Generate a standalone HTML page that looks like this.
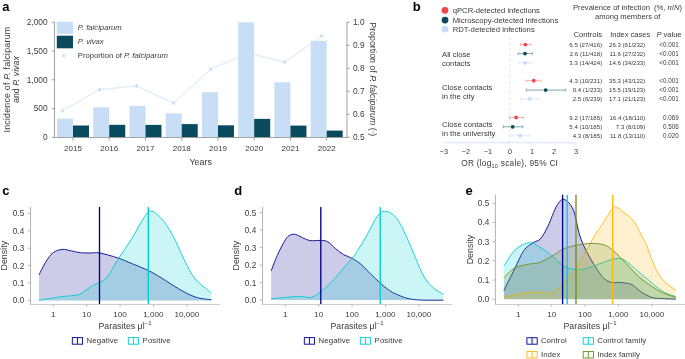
<!DOCTYPE html>
<html><head><meta charset="utf-8"><style>
html,body{margin:0;padding:0;background:#fff;width:685px;height:359px;overflow:hidden}
svg{display:block;will-change:transform;font-family:"Liberation Sans", sans-serif}
</style></head><body>
<svg width="685" height="359" viewBox="0 0 685 359">
<text x="2.20" y="10.60" font-size="13" text-anchor="start" fill="#000" font-weight="bold" font-style="normal" >a</text>
<polyline points="62.50,110.70 99.53,89.60 136.56,86.00 173.59,103.10 210.62,69.40 247.65,53.00 284.68,62.10 321.71,36.20" fill="none" stroke="#d3e3f8" stroke-width="0.9"/>
<line x1="62.50" y1="108.70" x2="62.50" y2="112.70" stroke="#c5daf5" stroke-width="0.9"/><line x1="64.23" y1="109.70" x2="60.77" y2="111.70" stroke="#c5daf5" stroke-width="0.9"/><line x1="64.23" y1="111.70" x2="60.77" y2="109.70" stroke="#c5daf5" stroke-width="0.9"/>
<line x1="99.53" y1="87.60" x2="99.53" y2="91.60" stroke="#c5daf5" stroke-width="0.9"/><line x1="101.26" y1="88.60" x2="97.80" y2="90.60" stroke="#c5daf5" stroke-width="0.9"/><line x1="101.26" y1="90.60" x2="97.80" y2="88.60" stroke="#c5daf5" stroke-width="0.9"/>
<line x1="136.56" y1="84.00" x2="136.56" y2="88.00" stroke="#c5daf5" stroke-width="0.9"/><line x1="138.29" y1="85.00" x2="134.83" y2="87.00" stroke="#c5daf5" stroke-width="0.9"/><line x1="138.29" y1="87.00" x2="134.83" y2="85.00" stroke="#c5daf5" stroke-width="0.9"/>
<line x1="173.59" y1="101.10" x2="173.59" y2="105.10" stroke="#c5daf5" stroke-width="0.9"/><line x1="175.32" y1="102.10" x2="171.86" y2="104.10" stroke="#c5daf5" stroke-width="0.9"/><line x1="175.32" y1="104.10" x2="171.86" y2="102.10" stroke="#c5daf5" stroke-width="0.9"/>
<line x1="210.62" y1="67.40" x2="210.62" y2="71.40" stroke="#c5daf5" stroke-width="0.9"/><line x1="212.35" y1="68.40" x2="208.89" y2="70.40" stroke="#c5daf5" stroke-width="0.9"/><line x1="212.35" y1="70.40" x2="208.89" y2="68.40" stroke="#c5daf5" stroke-width="0.9"/>
<line x1="247.65" y1="51.00" x2="247.65" y2="55.00" stroke="#c5daf5" stroke-width="0.9"/><line x1="249.38" y1="52.00" x2="245.92" y2="54.00" stroke="#c5daf5" stroke-width="0.9"/><line x1="249.38" y1="54.00" x2="245.92" y2="52.00" stroke="#c5daf5" stroke-width="0.9"/>
<line x1="284.68" y1="60.10" x2="284.68" y2="64.10" stroke="#c5daf5" stroke-width="0.9"/><line x1="286.41" y1="61.10" x2="282.95" y2="63.10" stroke="#c5daf5" stroke-width="0.9"/><line x1="286.41" y1="63.10" x2="282.95" y2="61.10" stroke="#c5daf5" stroke-width="0.9"/>
<line x1="321.71" y1="34.20" x2="321.71" y2="38.20" stroke="#c5daf5" stroke-width="0.9"/><line x1="323.44" y1="35.20" x2="319.98" y2="37.20" stroke="#c5daf5" stroke-width="0.9"/><line x1="323.44" y1="37.20" x2="319.98" y2="35.20" stroke="#c5daf5" stroke-width="0.9"/>
<rect x="57.00" y="118.70" width="16.00" height="18.60" fill="#c8def7" />
<rect x="73.00" y="125.50" width="16.00" height="11.80" fill="#0a4a5e" />
<rect x="93.24" y="107.30" width="16.00" height="30.00" fill="#c8def7" />
<rect x="109.24" y="124.80" width="16.00" height="12.50" fill="#0a4a5e" />
<rect x="129.48" y="105.90" width="16.00" height="31.40" fill="#c8def7" />
<rect x="145.48" y="124.90" width="16.00" height="12.40" fill="#0a4a5e" />
<rect x="165.72" y="113.30" width="16.00" height="24.00" fill="#c8def7" />
<rect x="181.72" y="124.10" width="16.00" height="13.20" fill="#0a4a5e" />
<rect x="201.96" y="92.20" width="16.00" height="45.10" fill="#c8def7" />
<rect x="217.96" y="125.30" width="16.00" height="12.00" fill="#0a4a5e" />
<rect x="238.20" y="22.20" width="16.00" height="115.10" fill="#c8def7" />
<rect x="254.20" y="118.90" width="16.00" height="18.40" fill="#0a4a5e" />
<rect x="274.44" y="82.30" width="16.00" height="55.00" fill="#c8def7" />
<rect x="290.44" y="125.60" width="16.00" height="11.70" fill="#0a4a5e" />
<rect x="310.68" y="40.80" width="16.00" height="96.50" fill="#c8def7" />
<rect x="326.68" y="130.60" width="16.00" height="6.70" fill="#0a4a5e" />
<line x1="54.50" y1="22.00" x2="54.50" y2="137.80" stroke="#999" stroke-width="0.9" />
<line x1="54.50" y1="137.50" x2="347.00" y2="137.50" stroke="#999" stroke-width="0.9" />
<line x1="347.00" y1="22.00" x2="347.00" y2="137.80" stroke="#999" stroke-width="0.9" />
<line x1="51.80" y1="137.30" x2="54.50" y2="137.30" stroke="#999" stroke-width="0.9" />
<text x="47.60" y="140.20" font-size="8.3" text-anchor="end" fill="#3a3a3a" font-weight="normal" font-style="normal" >0</text>
<line x1="51.80" y1="108.55" x2="54.50" y2="108.55" stroke="#999" stroke-width="0.9" />
<text x="47.60" y="111.45" font-size="8.3" text-anchor="end" fill="#3a3a3a" font-weight="normal" font-style="normal" >500</text>
<line x1="51.80" y1="79.80" x2="54.50" y2="79.80" stroke="#999" stroke-width="0.9" />
<text x="47.60" y="82.70" font-size="8.3" text-anchor="end" fill="#3a3a3a" font-weight="normal" font-style="normal" >1,000</text>
<line x1="51.80" y1="51.05" x2="54.50" y2="51.05" stroke="#999" stroke-width="0.9" />
<text x="47.60" y="53.95" font-size="8.3" text-anchor="end" fill="#3a3a3a" font-weight="normal" font-style="normal" >1,500</text>
<line x1="51.80" y1="22.30" x2="54.50" y2="22.30" stroke="#999" stroke-width="0.9" />
<text x="47.60" y="25.20" font-size="8.3" text-anchor="end" fill="#3a3a3a" font-weight="normal" font-style="normal" >2,000</text>
<line x1="347.00" y1="137.30" x2="349.70" y2="137.30" stroke="#999" stroke-width="0.9" />
<text x="353.00" y="140.20" font-size="8.3" text-anchor="start" fill="#3a3a3a" font-weight="normal" font-style="normal" >0.5</text>
<line x1="347.00" y1="114.30" x2="349.70" y2="114.30" stroke="#999" stroke-width="0.9" />
<text x="353.00" y="117.20" font-size="8.3" text-anchor="start" fill="#3a3a3a" font-weight="normal" font-style="normal" >0.6</text>
<line x1="347.00" y1="91.30" x2="349.70" y2="91.30" stroke="#999" stroke-width="0.9" />
<text x="353.00" y="94.20" font-size="8.3" text-anchor="start" fill="#3a3a3a" font-weight="normal" font-style="normal" >0.7</text>
<line x1="347.00" y1="68.30" x2="349.70" y2="68.30" stroke="#999" stroke-width="0.9" />
<text x="353.00" y="71.20" font-size="8.3" text-anchor="start" fill="#3a3a3a" font-weight="normal" font-style="normal" >0.8</text>
<line x1="347.00" y1="45.30" x2="349.70" y2="45.30" stroke="#999" stroke-width="0.9" />
<text x="353.00" y="48.20" font-size="8.3" text-anchor="start" fill="#3a3a3a" font-weight="normal" font-style="normal" >0.9</text>
<line x1="347.00" y1="22.30" x2="349.70" y2="22.30" stroke="#999" stroke-width="0.9" />
<text x="353.00" y="25.20" font-size="8.3" text-anchor="start" fill="#3a3a3a" font-weight="normal" font-style="normal" >1.0</text>
<line x1="73.00" y1="137.50" x2="73.00" y2="140.70" stroke="#999" stroke-width="0.9" />
<text x="73.00" y="150.70" font-size="8.0" text-anchor="middle" fill="#3a3a3a" font-weight="normal" font-style="normal" >2015</text>
<line x1="109.24" y1="137.50" x2="109.24" y2="140.70" stroke="#999" stroke-width="0.9" />
<text x="109.24" y="150.70" font-size="8.0" text-anchor="middle" fill="#3a3a3a" font-weight="normal" font-style="normal" >2016</text>
<line x1="145.48" y1="137.50" x2="145.48" y2="140.70" stroke="#999" stroke-width="0.9" />
<text x="145.48" y="150.70" font-size="8.0" text-anchor="middle" fill="#3a3a3a" font-weight="normal" font-style="normal" >2017</text>
<line x1="181.72" y1="137.50" x2="181.72" y2="140.70" stroke="#999" stroke-width="0.9" />
<text x="181.72" y="150.70" font-size="8.0" text-anchor="middle" fill="#3a3a3a" font-weight="normal" font-style="normal" >2018</text>
<line x1="217.96" y1="137.50" x2="217.96" y2="140.70" stroke="#999" stroke-width="0.9" />
<text x="217.96" y="150.70" font-size="8.0" text-anchor="middle" fill="#3a3a3a" font-weight="normal" font-style="normal" >2019</text>
<line x1="254.20" y1="137.50" x2="254.20" y2="140.70" stroke="#999" stroke-width="0.9" />
<text x="254.20" y="150.70" font-size="8.0" text-anchor="middle" fill="#3a3a3a" font-weight="normal" font-style="normal" >2020</text>
<line x1="290.44" y1="137.50" x2="290.44" y2="140.70" stroke="#999" stroke-width="0.9" />
<text x="290.44" y="150.70" font-size="8.0" text-anchor="middle" fill="#3a3a3a" font-weight="normal" font-style="normal" >2021</text>
<line x1="326.68" y1="137.50" x2="326.68" y2="140.70" stroke="#999" stroke-width="0.9" />
<text x="326.68" y="150.70" font-size="8.0" text-anchor="middle" fill="#3a3a3a" font-weight="normal" font-style="normal" >2022</text>
<text x="200.70" y="164.80" font-size="8.9" text-anchor="middle" fill="#3a3a3a" font-weight="normal" font-style="normal" >Years</text>
<rect x="56.80" y="21.70" width="16.20" height="12.20" fill="#c8def7" />
<rect x="56.80" y="35.70" width="16.20" height="12.60" fill="#0a4a5e" />
<line x1="63.80" y1="53.60" x2="63.80" y2="57.60" stroke="#c5daf5" stroke-width="0.9"/><line x1="65.53" y1="54.60" x2="62.07" y2="56.60" stroke="#c5daf5" stroke-width="0.9"/><line x1="65.53" y1="56.60" x2="62.07" y2="54.60" stroke="#c5daf5" stroke-width="0.9"/>
<text x="77.80" y="30.40" font-size="7.7" text-anchor="start" fill="#3a3a3a" font-weight="normal" font-style="italic" >P. falciparum</text>
<text x="77.80" y="43.90" font-size="7.7" text-anchor="start" fill="#3a3a3a" font-weight="normal" font-style="italic" >P. vivax</text>
<text x="77.80" y="57.90" font-size="7.7" text-anchor="start" fill="#3a3a3a" font-weight="normal" font-style="normal" >Proportion of <tspan font-style="italic">P. falciparum</tspan></text>
<text transform="translate(10,79.6) rotate(-90)" font-size="8.8" letter-spacing="0.22" text-anchor="middle" fill="#3a3a3a">Incidence of <tspan font-style="italic">P.</tspan> falciparum</text>
<text transform="translate(19.4,79.6) rotate(-90)" font-size="8.8" text-anchor="middle" fill="#3a3a3a">and <tspan font-style="italic">P. vivax</tspan></text>
<text transform="translate(369.6,79.2) rotate(90)" font-size="8.8" text-anchor="middle" fill="#3a3a3a">Proportion of <tspan font-style="italic">P. falciparum</tspan> (   )</text>
<line x1="373.00" y1="130.70" x2="373.00" y2="134.30" stroke="#c5daf5" stroke-width="0.9"/><line x1="374.56" y1="131.60" x2="371.44" y2="133.40" stroke="#c5daf5" stroke-width="0.9"/><line x1="374.56" y1="133.40" x2="371.44" y2="131.60" stroke="#c5daf5" stroke-width="0.9"/>
<text x="412.80" y="10.60" font-size="13" text-anchor="start" fill="#000" font-weight="bold" font-style="normal" >b</text>
<circle cx="445" cy="10.3" r="3.4" fill="#f0454a"/>
<text x="452.70" y="13.00" font-size="7.7" text-anchor="start" fill="#3a3a3a" font-weight="normal" font-style="normal" >qPCR-detected infections</text>
<circle cx="445" cy="20.1" r="3.4" fill="#0c4a5a"/>
<text x="452.70" y="22.80" font-size="7.7" text-anchor="start" fill="#3a3a3a" font-weight="normal" font-style="normal" >Microscopy-detected infections</text>
<circle cx="445" cy="29.1" r="3.4" fill="#c8dcf5"/>
<text x="452.70" y="31.80" font-size="7.7" text-anchor="start" fill="#3a3a3a" font-weight="normal" font-style="normal" >RDT-detected infections</text>
<text x="627.50" y="10.40" font-size="7.6" text-anchor="middle" fill="#3a3a3a" font-weight="normal" font-style="normal" >Prevalence of infection&#160; (%, <tspan font-style="italic">n</tspan>/<tspan font-style="italic">N</tspan>)</text>
<text x="627.70" y="19.20" font-size="7.6" text-anchor="middle" fill="#3a3a3a" font-weight="normal" font-style="normal" >among members of</text>
<text x="587.70" y="36.50" font-size="7.7" text-anchor="middle" fill="#3a3a3a" font-weight="normal" font-style="normal" >Controls</text>
<text x="630.20" y="36.50" font-size="7.5" text-anchor="middle" fill="#3a3a3a" font-weight="normal" font-style="normal" >Index cases</text>
<text x="669.00" y="36.50" font-size="7.5" text-anchor="middle" fill="#3a3a3a" font-weight="normal" font-style="normal" ><tspan font-style="italic">P</tspan> value</text>
<line x1="509.80" y1="37.30" x2="509.80" y2="142.40" stroke="#d3e2f7" stroke-width="0.9" stroke-dasharray="2.8,2.6"/>
<line x1="443.50" y1="142.40" x2="576.50" y2="142.40" stroke="#d8e5f7" stroke-width="0.9" />
<line x1="444.00" y1="142.40" x2="444.00" y2="144.80" stroke="#dfe9f8" stroke-width="0.7" />
<line x1="450.62" y1="142.40" x2="450.62" y2="144.20" stroke="#dfe9f8" stroke-width="0.7" />
<line x1="454.50" y1="142.40" x2="454.50" y2="144.20" stroke="#dfe9f8" stroke-width="0.7" />
<line x1="457.25" y1="142.40" x2="457.25" y2="144.20" stroke="#dfe9f8" stroke-width="0.7" />
<line x1="459.38" y1="142.40" x2="459.38" y2="144.20" stroke="#dfe9f8" stroke-width="0.7" />
<line x1="461.12" y1="142.40" x2="461.12" y2="144.20" stroke="#dfe9f8" stroke-width="0.7" />
<line x1="462.59" y1="142.40" x2="462.59" y2="144.20" stroke="#dfe9f8" stroke-width="0.7" />
<line x1="463.87" y1="142.40" x2="463.87" y2="144.20" stroke="#dfe9f8" stroke-width="0.7" />
<line x1="464.99" y1="142.40" x2="464.99" y2="144.20" stroke="#dfe9f8" stroke-width="0.7" />
<line x1="466.00" y1="142.40" x2="466.00" y2="144.80" stroke="#dfe9f8" stroke-width="0.7" />
<line x1="472.62" y1="142.40" x2="472.62" y2="144.20" stroke="#dfe9f8" stroke-width="0.7" />
<line x1="476.50" y1="142.40" x2="476.50" y2="144.20" stroke="#dfe9f8" stroke-width="0.7" />
<line x1="479.25" y1="142.40" x2="479.25" y2="144.20" stroke="#dfe9f8" stroke-width="0.7" />
<line x1="481.38" y1="142.40" x2="481.38" y2="144.20" stroke="#dfe9f8" stroke-width="0.7" />
<line x1="483.12" y1="142.40" x2="483.12" y2="144.20" stroke="#dfe9f8" stroke-width="0.7" />
<line x1="484.59" y1="142.40" x2="484.59" y2="144.20" stroke="#dfe9f8" stroke-width="0.7" />
<line x1="485.87" y1="142.40" x2="485.87" y2="144.20" stroke="#dfe9f8" stroke-width="0.7" />
<line x1="486.99" y1="142.40" x2="486.99" y2="144.20" stroke="#dfe9f8" stroke-width="0.7" />
<line x1="488.00" y1="142.40" x2="488.00" y2="144.80" stroke="#dfe9f8" stroke-width="0.7" />
<line x1="494.62" y1="142.40" x2="494.62" y2="144.20" stroke="#dfe9f8" stroke-width="0.7" />
<line x1="498.50" y1="142.40" x2="498.50" y2="144.20" stroke="#dfe9f8" stroke-width="0.7" />
<line x1="501.25" y1="142.40" x2="501.25" y2="144.20" stroke="#dfe9f8" stroke-width="0.7" />
<line x1="503.38" y1="142.40" x2="503.38" y2="144.20" stroke="#dfe9f8" stroke-width="0.7" />
<line x1="505.12" y1="142.40" x2="505.12" y2="144.20" stroke="#dfe9f8" stroke-width="0.7" />
<line x1="506.59" y1="142.40" x2="506.59" y2="144.20" stroke="#dfe9f8" stroke-width="0.7" />
<line x1="507.87" y1="142.40" x2="507.87" y2="144.20" stroke="#dfe9f8" stroke-width="0.7" />
<line x1="508.99" y1="142.40" x2="508.99" y2="144.20" stroke="#dfe9f8" stroke-width="0.7" />
<line x1="510.00" y1="142.40" x2="510.00" y2="144.80" stroke="#dfe9f8" stroke-width="0.7" />
<line x1="516.62" y1="142.40" x2="516.62" y2="144.20" stroke="#dfe9f8" stroke-width="0.7" />
<line x1="520.50" y1="142.40" x2="520.50" y2="144.20" stroke="#dfe9f8" stroke-width="0.7" />
<line x1="523.25" y1="142.40" x2="523.25" y2="144.20" stroke="#dfe9f8" stroke-width="0.7" />
<line x1="525.38" y1="142.40" x2="525.38" y2="144.20" stroke="#dfe9f8" stroke-width="0.7" />
<line x1="527.12" y1="142.40" x2="527.12" y2="144.20" stroke="#dfe9f8" stroke-width="0.7" />
<line x1="528.59" y1="142.40" x2="528.59" y2="144.20" stroke="#dfe9f8" stroke-width="0.7" />
<line x1="529.87" y1="142.40" x2="529.87" y2="144.20" stroke="#dfe9f8" stroke-width="0.7" />
<line x1="530.99" y1="142.40" x2="530.99" y2="144.20" stroke="#dfe9f8" stroke-width="0.7" />
<line x1="532.00" y1="142.40" x2="532.00" y2="144.80" stroke="#dfe9f8" stroke-width="0.7" />
<line x1="538.62" y1="142.40" x2="538.62" y2="144.20" stroke="#dfe9f8" stroke-width="0.7" />
<line x1="542.50" y1="142.40" x2="542.50" y2="144.20" stroke="#dfe9f8" stroke-width="0.7" />
<line x1="545.25" y1="142.40" x2="545.25" y2="144.20" stroke="#dfe9f8" stroke-width="0.7" />
<line x1="547.38" y1="142.40" x2="547.38" y2="144.20" stroke="#dfe9f8" stroke-width="0.7" />
<line x1="549.12" y1="142.40" x2="549.12" y2="144.20" stroke="#dfe9f8" stroke-width="0.7" />
<line x1="550.59" y1="142.40" x2="550.59" y2="144.20" stroke="#dfe9f8" stroke-width="0.7" />
<line x1="551.87" y1="142.40" x2="551.87" y2="144.20" stroke="#dfe9f8" stroke-width="0.7" />
<line x1="552.99" y1="142.40" x2="552.99" y2="144.20" stroke="#dfe9f8" stroke-width="0.7" />
<line x1="554.00" y1="142.40" x2="554.00" y2="144.80" stroke="#dfe9f8" stroke-width="0.7" />
<line x1="560.62" y1="142.40" x2="560.62" y2="144.20" stroke="#dfe9f8" stroke-width="0.7" />
<line x1="564.50" y1="142.40" x2="564.50" y2="144.20" stroke="#dfe9f8" stroke-width="0.7" />
<line x1="567.25" y1="142.40" x2="567.25" y2="144.20" stroke="#dfe9f8" stroke-width="0.7" />
<line x1="569.38" y1="142.40" x2="569.38" y2="144.20" stroke="#dfe9f8" stroke-width="0.7" />
<line x1="571.12" y1="142.40" x2="571.12" y2="144.20" stroke="#dfe9f8" stroke-width="0.7" />
<line x1="572.59" y1="142.40" x2="572.59" y2="144.20" stroke="#dfe9f8" stroke-width="0.7" />
<line x1="573.87" y1="142.40" x2="573.87" y2="144.20" stroke="#dfe9f8" stroke-width="0.7" />
<line x1="574.99" y1="142.40" x2="574.99" y2="144.20" stroke="#dfe9f8" stroke-width="0.7" />
<line x1="576.00" y1="142.40" x2="576.00" y2="144.80" stroke="#dfe9f8" stroke-width="0.7" />
<text x="444.00" y="154.20" font-size="7.3" text-anchor="middle" fill="#3a3a3a" font-weight="normal" font-style="normal" >−3</text>
<text x="466.00" y="154.20" font-size="7.3" text-anchor="middle" fill="#3a3a3a" font-weight="normal" font-style="normal" >−2</text>
<text x="488.00" y="154.20" font-size="7.3" text-anchor="middle" fill="#3a3a3a" font-weight="normal" font-style="normal" >−1</text>
<text x="510.00" y="154.20" font-size="7.3" text-anchor="middle" fill="#3a3a3a" font-weight="normal" font-style="normal" >0</text>
<text x="532.00" y="154.20" font-size="7.3" text-anchor="middle" fill="#3a3a3a" font-weight="normal" font-style="normal" >1</text>
<text x="554.00" y="154.20" font-size="7.3" text-anchor="middle" fill="#3a3a3a" font-weight="normal" font-style="normal" >2</text>
<text x="576.00" y="154.20" font-size="7.3" text-anchor="middle" fill="#3a3a3a" font-weight="normal" font-style="normal" >3</text>
<text x="509.70" y="166.40" font-size="8.3" text-anchor="middle" fill="#3a3a3a" font-weight="normal" font-style="normal" letter-spacing="0.25">OR (log<tspan font-size="5.5" dy="2">10</tspan><tspan dy="-2"> scale), 95% CI</tspan></text>
<line x1="520.40" y1="44.60" x2="530.80" y2="44.60" stroke="#f59a9c" stroke-width="0.8" />
<line x1="520.40" y1="43.10" x2="520.40" y2="46.10" stroke="#f59a9c" stroke-width="0.7" />
<line x1="530.80" y1="43.10" x2="530.80" y2="46.10" stroke="#f59a9c" stroke-width="0.7" />
<circle cx="525.4" cy="44.6" r="1.9" fill="#f0454a"/>
<text x="602.20" y="46.80" font-size="6.1" text-anchor="end" fill="#3a3a3a" font-weight="normal" font-style="normal" >6.5 (27/416)</text>
<text x="645.30" y="46.80" font-size="6.1" text-anchor="end" fill="#3a3a3a" font-weight="normal" font-style="normal" >26.3 (61/232)</text>
<text x="678.80" y="46.80" font-size="6.3" text-anchor="end" fill="#3a3a3a" font-weight="normal" font-style="normal" >&lt;0.001</text>
<line x1="518.10" y1="53.60" x2="532.40" y2="53.60" stroke="#5f8f9a" stroke-width="0.8" />
<line x1="518.10" y1="52.10" x2="518.10" y2="55.10" stroke="#5f8f9a" stroke-width="0.7" />
<line x1="532.40" y1="52.10" x2="532.40" y2="55.10" stroke="#5f8f9a" stroke-width="0.7" />
<circle cx="525.0" cy="53.6" r="1.9" fill="#0c4a5a"/>
<text x="602.20" y="55.80" font-size="6.1" text-anchor="end" fill="#3a3a3a" font-weight="normal" font-style="normal" >2.6 (11/418)</text>
<text x="645.30" y="55.80" font-size="6.1" text-anchor="end" fill="#3a3a3a" font-weight="normal" font-style="normal" >11.6 (27/232)</text>
<text x="678.80" y="55.80" font-size="6.3" text-anchor="end" fill="#3a3a3a" font-weight="normal" font-style="normal" >&lt;0.001</text>
<line x1="519.10" y1="62.80" x2="531.70" y2="62.80" stroke="#d5e4f7" stroke-width="0.8" />
<line x1="519.10" y1="61.30" x2="519.10" y2="64.30" stroke="#d5e4f7" stroke-width="0.7" />
<line x1="531.70" y1="61.30" x2="531.70" y2="64.30" stroke="#d5e4f7" stroke-width="0.7" />
<circle cx="525.2" cy="62.8" r="1.9" fill="#c8dcf5"/>
<text x="602.20" y="65.00" font-size="6.1" text-anchor="end" fill="#3a3a3a" font-weight="normal" font-style="normal" >3.3 (14/424)</text>
<text x="645.30" y="65.00" font-size="6.1" text-anchor="end" fill="#3a3a3a" font-weight="normal" font-style="normal" >14.6 (34/233)</text>
<text x="678.80" y="65.00" font-size="6.3" text-anchor="end" fill="#3a3a3a" font-weight="normal" font-style="normal" >&lt;0.001</text>
<line x1="526.30" y1="80.70" x2="540.80" y2="80.70" stroke="#f59a9c" stroke-width="0.8" />
<line x1="526.30" y1="79.20" x2="526.30" y2="82.20" stroke="#f59a9c" stroke-width="0.7" />
<line x1="540.80" y1="79.20" x2="540.80" y2="82.20" stroke="#f59a9c" stroke-width="0.7" />
<circle cx="533.7" cy="80.7" r="1.9" fill="#f0454a"/>
<text x="602.20" y="82.90" font-size="6.1" text-anchor="end" fill="#3a3a3a" font-weight="normal" font-style="normal" >4.3 (10/231)</text>
<text x="645.30" y="82.90" font-size="6.1" text-anchor="end" fill="#3a3a3a" font-weight="normal" font-style="normal" >35.3 (43/122)</text>
<text x="678.80" y="82.90" font-size="6.3" text-anchor="end" fill="#3a3a3a" font-weight="normal" font-style="normal" >&lt;0.001</text>
<line x1="526.30" y1="90.10" x2="565.30" y2="90.10" stroke="#5f8f9a" stroke-width="0.8" />
<line x1="526.30" y1="88.60" x2="526.30" y2="91.60" stroke="#5f8f9a" stroke-width="0.7" />
<line x1="565.30" y1="88.60" x2="565.30" y2="91.60" stroke="#5f8f9a" stroke-width="0.7" />
<circle cx="545.7" cy="90.1" r="1.9" fill="#0c4a5a"/>
<text x="602.20" y="92.30" font-size="6.1" text-anchor="end" fill="#3a3a3a" font-weight="normal" font-style="normal" >0.4 (1/233)</text>
<text x="645.30" y="92.30" font-size="6.1" text-anchor="end" fill="#3a3a3a" font-weight="normal" font-style="normal" >15.5 (19/123)</text>
<text x="678.80" y="92.30" font-size="6.3" text-anchor="end" fill="#3a3a3a" font-weight="normal" font-style="normal" >&lt;0.001</text>
<line x1="520.50" y1="99.00" x2="538.60" y2="99.00" stroke="#d5e4f7" stroke-width="0.8" />
<line x1="520.50" y1="97.50" x2="520.50" y2="100.50" stroke="#d5e4f7" stroke-width="0.7" />
<line x1="538.60" y1="97.50" x2="538.60" y2="100.50" stroke="#d5e4f7" stroke-width="0.7" />
<circle cx="529.7" cy="99.0" r="1.9" fill="#c8dcf5"/>
<text x="602.20" y="101.20" font-size="6.1" text-anchor="end" fill="#3a3a3a" font-weight="normal" font-style="normal" >2.5 (6/239)</text>
<text x="645.30" y="101.20" font-size="6.1" text-anchor="end" fill="#3a3a3a" font-weight="normal" font-style="normal" >17.1 (21/123)</text>
<text x="678.80" y="101.20" font-size="6.3" text-anchor="end" fill="#3a3a3a" font-weight="normal" font-style="normal" >&lt;0.001</text>
<line x1="509.40" y1="117.50" x2="523.00" y2="117.50" stroke="#f59a9c" stroke-width="0.8" />
<line x1="509.40" y1="116.00" x2="509.40" y2="119.00" stroke="#f59a9c" stroke-width="0.7" />
<line x1="523.00" y1="116.00" x2="523.00" y2="119.00" stroke="#f59a9c" stroke-width="0.7" />
<circle cx="516.1" cy="117.5" r="1.9" fill="#f0454a"/>
<text x="602.20" y="119.70" font-size="6.1" text-anchor="end" fill="#3a3a3a" font-weight="normal" font-style="normal" >9.2 (17/185)</text>
<text x="645.30" y="119.70" font-size="6.1" text-anchor="end" fill="#3a3a3a" font-weight="normal" font-style="normal" >16.4 (18/110)</text>
<text x="678.80" y="119.70" font-size="6.3" text-anchor="end" fill="#3a3a3a" font-weight="normal" font-style="normal" >0.069</text>
<line x1="503.40" y1="126.80" x2="522.80" y2="126.80" stroke="#5f8f9a" stroke-width="0.8" />
<line x1="503.40" y1="125.30" x2="503.40" y2="128.30" stroke="#5f8f9a" stroke-width="0.7" />
<line x1="522.80" y1="125.30" x2="522.80" y2="128.30" stroke="#5f8f9a" stroke-width="0.7" />
<circle cx="512.7" cy="126.8" r="1.9" fill="#0c4a5a"/>
<text x="602.20" y="129.00" font-size="6.1" text-anchor="end" fill="#3a3a3a" font-weight="normal" font-style="normal" >5.4 (10/185)</text>
<text x="645.30" y="129.00" font-size="6.1" text-anchor="end" fill="#3a3a3a" font-weight="normal" font-style="normal" >7.3 (8/109)</text>
<text x="678.80" y="129.00" font-size="6.3" text-anchor="end" fill="#3a3a3a" font-weight="normal" font-style="normal" >0.506</text>
<line x1="511.20" y1="135.70" x2="529.40" y2="135.70" stroke="#d5e4f7" stroke-width="0.8" />
<line x1="511.20" y1="134.20" x2="511.20" y2="137.20" stroke="#d5e4f7" stroke-width="0.7" />
<line x1="529.40" y1="134.20" x2="529.40" y2="137.20" stroke="#d5e4f7" stroke-width="0.7" />
<circle cx="520.1" cy="135.7" r="1.9" fill="#c8dcf5"/>
<text x="602.20" y="137.90" font-size="6.1" text-anchor="end" fill="#3a3a3a" font-weight="normal" font-style="normal" >4.3 (8/185)</text>
<text x="645.30" y="137.90" font-size="6.1" text-anchor="end" fill="#3a3a3a" font-weight="normal" font-style="normal" >11.8 (13/110)</text>
<text x="678.80" y="137.90" font-size="6.3" text-anchor="end" fill="#3a3a3a" font-weight="normal" font-style="normal" >0.020</text>
<text x="442.00" y="57.20" font-size="7.7" text-anchor="start" fill="#3a3a3a" font-weight="normal" font-style="normal" >All close</text>
<text x="442.00" y="65.80" font-size="7.7" text-anchor="start" fill="#3a3a3a" font-weight="normal" font-style="normal" >contacts</text>
<text x="442.00" y="90.30" font-size="7.7" text-anchor="start" fill="#3a3a3a" font-weight="normal" font-style="normal" >Close contacts</text>
<text x="442.00" y="98.90" font-size="7.7" text-anchor="start" fill="#3a3a3a" font-weight="normal" font-style="normal" >in the city</text>
<text x="442.00" y="126.90" font-size="7.7" text-anchor="start" fill="#3a3a3a" font-weight="normal" font-style="normal" >Close contacts</text>
<text x="442.00" y="135.50" font-size="7.7" text-anchor="start" fill="#3a3a3a" font-weight="normal" font-style="normal" >in the university</text>
<text x="2.20" y="194.60" font-size="13" text-anchor="start" fill="#000" font-weight="bold" font-style="normal" >c</text>
<path d="M39.00,274.80 C40.15,272.63 43.55,265.48 45.90,261.80 C48.25,258.12 50.38,254.77 53.10,252.70 C55.82,250.63 59.17,249.70 62.20,249.40 C65.23,249.10 68.28,250.35 71.30,250.90 C74.32,251.45 77.18,252.35 80.30,252.70 C83.42,253.05 86.75,252.95 90.00,253.00 C93.25,253.05 95.15,252.17 99.80,253.00 C104.45,253.83 112.55,256.23 117.90,258.00 C123.25,259.77 126.83,261.52 131.90,263.60 C136.97,265.68 143.33,268.08 148.30,270.50 C153.27,272.92 156.67,275.07 161.70,278.10 C166.73,281.13 172.92,285.55 178.50,288.70 C184.08,291.85 189.72,295.15 195.20,297.00 C200.68,298.85 208.70,299.33 211.40,299.80 L211.40,300.40 L39.00,300.40 Z" fill="#00008b" fill-opacity="0.2" stroke="none"/>
<path d="M39.00,274.80 C40.15,272.63 43.55,265.48 45.90,261.80 C48.25,258.12 50.38,254.77 53.10,252.70 C55.82,250.63 59.17,249.70 62.20,249.40 C65.23,249.10 68.28,250.35 71.30,250.90 C74.32,251.45 77.18,252.35 80.30,252.70 C83.42,253.05 86.75,252.95 90.00,253.00 C93.25,253.05 95.15,252.17 99.80,253.00 C104.45,253.83 112.55,256.23 117.90,258.00 C123.25,259.77 126.83,261.52 131.90,263.60 C136.97,265.68 143.33,268.08 148.30,270.50 C153.27,272.92 156.67,275.07 161.70,278.10 C166.73,281.13 172.92,285.55 178.50,288.70 C184.08,291.85 189.72,295.15 195.20,297.00 C200.68,298.85 208.70,299.33 211.40,299.80" fill="none" stroke="#00008b" stroke-width="0.9"/>
<path d="M39.00,300.20 C41.35,299.83 48.63,298.67 53.10,298.00 C57.57,297.33 62.48,296.60 65.80,296.20 C69.12,295.80 70.88,295.87 73.00,295.60 C75.12,295.33 76.67,295.27 78.50,294.60 C80.33,293.93 82.08,292.80 84.00,291.60 C85.92,290.40 88.17,288.60 90.00,287.40 C91.83,286.20 92.22,286.03 95.00,284.40 C97.78,282.77 102.88,281.77 106.70,277.60 C110.52,273.43 113.70,265.92 117.90,259.40 C122.10,252.88 127.72,245.23 131.90,238.50 C136.08,231.77 139.88,223.57 143.00,219.00 C146.12,214.43 147.48,211.12 150.60,211.10 C153.72,211.08 157.98,214.80 161.70,218.90 C165.42,223.00 169.18,228.95 172.90,235.70 C176.62,242.45 180.28,252.20 184.00,259.40 C187.72,266.60 190.63,273.33 195.20,278.90 C199.77,284.47 208.70,290.48 211.40,292.80 L211.40,300.40 L39.00,300.40 Z" fill="#00ced1" fill-opacity="0.2" stroke="none"/>
<path d="M39.00,300.20 C41.35,299.83 48.63,298.67 53.10,298.00 C57.57,297.33 62.48,296.60 65.80,296.20 C69.12,295.80 70.88,295.87 73.00,295.60 C75.12,295.33 76.67,295.27 78.50,294.60 C80.33,293.93 82.08,292.80 84.00,291.60 C85.92,290.40 88.17,288.60 90.00,287.40 C91.83,286.20 92.22,286.03 95.00,284.40 C97.78,282.77 102.88,281.77 106.70,277.60 C110.52,273.43 113.70,265.92 117.90,259.40 C122.10,252.88 127.72,245.23 131.90,238.50 C136.08,231.77 139.88,223.57 143.00,219.00 C146.12,214.43 147.48,211.12 150.60,211.10 C153.72,211.08 157.98,214.80 161.70,218.90 C165.42,223.00 169.18,228.95 172.90,235.70 C176.62,242.45 180.28,252.20 184.00,259.40 C187.72,266.60 190.63,273.33 195.20,278.90 C199.77,284.47 208.70,290.48 211.40,292.80" fill="none" stroke="#00ced1" stroke-width="0.9"/>
<line x1="99.50" y1="207.00" x2="99.50" y2="304.30" stroke="#00008b" stroke-width="1.35" />
<line x1="148.30" y1="207.00" x2="148.30" y2="304.30" stroke="#00ced1" stroke-width="1.35" />
<line x1="30.50" y1="207.00" x2="30.50" y2="304.90" stroke="#aaa" stroke-width="0.9" />
<line x1="30.50" y1="304.50" x2="220.30" y2="304.50" stroke="#ccc" stroke-width="1.0" />
<line x1="27.60" y1="300.40" x2="30.50" y2="300.40" stroke="#aaa" stroke-width="0.8" />
<text x="24.20" y="303.40" font-size="8.2" text-anchor="end" fill="#3a3a3a" font-weight="normal" font-style="normal" >0.0</text>
<line x1="27.60" y1="283.00" x2="30.50" y2="283.00" stroke="#aaa" stroke-width="0.8" />
<text x="24.20" y="286.00" font-size="8.2" text-anchor="end" fill="#3a3a3a" font-weight="normal" font-style="normal" >0.1</text>
<line x1="27.60" y1="265.60" x2="30.50" y2="265.60" stroke="#aaa" stroke-width="0.8" />
<text x="24.20" y="268.60" font-size="8.2" text-anchor="end" fill="#3a3a3a" font-weight="normal" font-style="normal" >0.2</text>
<line x1="27.60" y1="248.20" x2="30.50" y2="248.20" stroke="#aaa" stroke-width="0.8" />
<text x="24.20" y="251.20" font-size="8.2" text-anchor="end" fill="#3a3a3a" font-weight="normal" font-style="normal" >0.3</text>
<line x1="27.60" y1="230.80" x2="30.50" y2="230.80" stroke="#aaa" stroke-width="0.8" />
<text x="24.20" y="233.80" font-size="8.2" text-anchor="end" fill="#3a3a3a" font-weight="normal" font-style="normal" >0.4</text>
<line x1="27.60" y1="213.40" x2="30.50" y2="213.40" stroke="#aaa" stroke-width="0.8" />
<text x="24.20" y="216.40" font-size="8.2" text-anchor="end" fill="#3a3a3a" font-weight="normal" font-style="normal" >0.5</text>
<line x1="53.30" y1="304.50" x2="53.30" y2="306.80" stroke="#aaa" stroke-width="0.8" />
<text x="53.30" y="317.00" font-size="8.1" text-anchor="middle" fill="#3a3a3a" font-weight="normal" font-style="normal" >1</text>
<line x1="86.70" y1="304.50" x2="86.70" y2="306.80" stroke="#aaa" stroke-width="0.8" />
<text x="86.70" y="317.00" font-size="8.1" text-anchor="middle" fill="#3a3a3a" font-weight="normal" font-style="normal" >10</text>
<line x1="120.10" y1="304.50" x2="120.10" y2="306.80" stroke="#aaa" stroke-width="0.8" />
<text x="120.10" y="317.00" font-size="8.1" text-anchor="middle" fill="#3a3a3a" font-weight="normal" font-style="normal" >100</text>
<line x1="153.50" y1="304.50" x2="153.50" y2="306.80" stroke="#aaa" stroke-width="0.8" />
<text x="153.50" y="317.00" font-size="8.1" text-anchor="middle" fill="#3a3a3a" font-weight="normal" font-style="normal" >1,000</text>
<line x1="186.90" y1="304.50" x2="186.90" y2="306.80" stroke="#aaa" stroke-width="0.8" />
<text x="186.90" y="317.00" font-size="8.1" text-anchor="middle" fill="#3a3a3a" font-weight="normal" font-style="normal" >10,000</text>
<text transform="translate(7.3,255.7) rotate(-90)" font-size="8.9" text-anchor="middle" fill="#3a3a3a">Density</text>
<text x="125.00" y="328.80" font-size="8.8" text-anchor="middle" fill="#3a3a3a" font-weight="normal" font-style="normal" >Parasites μl<tspan font-size="6" dy="-3.6">−1</tspan></text>
<rect x="72.30" y="337.6" width="10.3" height="6.6" fill="#00008b" fill-opacity="0.04" stroke="#00008b" stroke-width="0.9"/>
<line x1="77.45" y1="337.60" x2="77.45" y2="344.20" stroke="#00008b" stroke-width="0.9" />
<text x="86.60" y="343.20" font-size="7.8" text-anchor="start" fill="#3a3a3a" font-weight="normal" font-style="normal" letter-spacing="0.1">Negative</text>
<rect x="128.30" y="337.6" width="10.3" height="6.6" fill="#00ced1" fill-opacity="0.04" stroke="#00ced1" stroke-width="0.9"/>
<line x1="133.45" y1="337.60" x2="133.45" y2="344.20" stroke="#00ced1" stroke-width="0.9" />
<text x="142.60" y="343.20" font-size="7.8" text-anchor="start" fill="#3a3a3a" font-weight="normal" font-style="normal" letter-spacing="0.1">Positive</text>
<text x="234.20" y="194.60" font-size="13" text-anchor="start" fill="#000" font-weight="bold" font-style="normal" >d</text>
<path d="M271.10,270.90 C272.12,268.35 275.17,260.18 277.20,255.60 C279.23,251.02 281.52,246.58 283.30,243.40 C285.08,240.22 286.23,238.03 287.90,236.50 C289.57,234.97 291.52,234.33 293.30,234.20 C295.08,234.07 296.43,234.82 298.60,235.70 C300.77,236.58 304.00,238.65 306.30,239.50 C308.60,240.35 309.98,240.67 312.40,240.80 C314.82,240.93 318.23,240.13 320.80,240.30 C323.37,240.47 325.33,240.40 327.80,241.80 C330.27,243.20 333.00,246.58 335.60,248.70 C338.20,250.82 340.63,252.88 343.40,254.50 C346.17,256.12 349.27,256.77 352.20,258.40 C355.13,260.03 357.92,261.70 361.00,264.30 C364.08,266.90 367.45,270.83 370.70,274.00 C373.95,277.17 377.57,280.70 380.50,283.30 C383.43,285.90 385.87,287.88 388.30,289.60 C390.73,291.32 391.05,291.97 395.10,293.60 C399.15,295.23 404.57,298.30 412.60,299.40 C420.63,300.50 438.18,300.07 443.30,300.20 L443.30,300.10 L271.10,300.10 Z" fill="#00008b" fill-opacity="0.2" stroke="none"/>
<path d="M271.10,270.90 C272.12,268.35 275.17,260.18 277.20,255.60 C279.23,251.02 281.52,246.58 283.30,243.40 C285.08,240.22 286.23,238.03 287.90,236.50 C289.57,234.97 291.52,234.33 293.30,234.20 C295.08,234.07 296.43,234.82 298.60,235.70 C300.77,236.58 304.00,238.65 306.30,239.50 C308.60,240.35 309.98,240.67 312.40,240.80 C314.82,240.93 318.23,240.13 320.80,240.30 C323.37,240.47 325.33,240.40 327.80,241.80 C330.27,243.20 333.00,246.58 335.60,248.70 C338.20,250.82 340.63,252.88 343.40,254.50 C346.17,256.12 349.27,256.77 352.20,258.40 C355.13,260.03 357.92,261.70 361.00,264.30 C364.08,266.90 367.45,270.83 370.70,274.00 C373.95,277.17 377.57,280.70 380.50,283.30 C383.43,285.90 385.87,287.88 388.30,289.60 C390.73,291.32 391.05,291.97 395.10,293.60 C399.15,295.23 404.57,298.30 412.60,299.40 C420.63,300.50 438.18,300.07 443.30,300.20" fill="none" stroke="#00008b" stroke-width="0.9"/>
<path d="M271.10,298.70 C273.08,298.52 278.92,297.97 283.00,297.60 C287.08,297.23 292.27,296.67 295.60,296.50 C298.93,296.33 300.43,296.45 303.00,296.60 C305.57,296.75 308.15,298.13 311.00,297.40 C313.85,296.67 316.65,294.80 320.10,292.20 C323.55,289.60 327.82,285.80 331.70,281.80 C335.58,277.80 339.83,272.32 343.40,268.20 C346.97,264.08 350.47,260.47 353.10,257.10 C355.73,253.73 357.17,251.18 359.20,248.00 C361.23,244.82 363.25,241.58 365.30,238.00 C367.35,234.42 369.70,229.83 371.50,226.50 C373.30,223.17 374.57,220.30 376.10,218.00 C377.63,215.70 379.17,213.80 380.70,212.70 C382.23,211.60 383.52,211.28 385.30,211.40 C387.08,211.52 389.10,211.65 391.40,213.40 C393.70,215.15 396.05,216.82 399.10,221.90 C402.15,226.98 405.73,235.12 409.70,243.90 C413.67,252.68 419.00,267.30 422.90,274.60 C426.80,281.90 429.70,284.43 433.10,287.70 C436.50,290.97 441.60,293.12 443.30,294.20 L443.30,300.10 L271.10,300.10 Z" fill="#00ced1" fill-opacity="0.2" stroke="none"/>
<path d="M271.10,298.70 C273.08,298.52 278.92,297.97 283.00,297.60 C287.08,297.23 292.27,296.67 295.60,296.50 C298.93,296.33 300.43,296.45 303.00,296.60 C305.57,296.75 308.15,298.13 311.00,297.40 C313.85,296.67 316.65,294.80 320.10,292.20 C323.55,289.60 327.82,285.80 331.70,281.80 C335.58,277.80 339.83,272.32 343.40,268.20 C346.97,264.08 350.47,260.47 353.10,257.10 C355.73,253.73 357.17,251.18 359.20,248.00 C361.23,244.82 363.25,241.58 365.30,238.00 C367.35,234.42 369.70,229.83 371.50,226.50 C373.30,223.17 374.57,220.30 376.10,218.00 C377.63,215.70 379.17,213.80 380.70,212.70 C382.23,211.60 383.52,211.28 385.30,211.40 C387.08,211.52 389.10,211.65 391.40,213.40 C393.70,215.15 396.05,216.82 399.10,221.90 C402.15,226.98 405.73,235.12 409.70,243.90 C413.67,252.68 419.00,267.30 422.90,274.60 C426.80,281.90 429.70,284.43 433.10,287.70 C436.50,290.97 441.60,293.12 443.30,294.20" fill="none" stroke="#00ced1" stroke-width="0.9"/>
<line x1="320.80" y1="207.00" x2="320.80" y2="304.30" stroke="#00008b" stroke-width="1.35" />
<line x1="380.20" y1="207.00" x2="380.20" y2="304.30" stroke="#00ced1" stroke-width="1.35" />
<line x1="262.50" y1="207.00" x2="262.50" y2="304.90" stroke="#aaa" stroke-width="0.9" />
<line x1="262.50" y1="304.50" x2="452.30" y2="304.50" stroke="#ccc" stroke-width="1.0" />
<line x1="259.60" y1="300.10" x2="262.50" y2="300.10" stroke="#aaa" stroke-width="0.8" />
<text x="256.20" y="303.10" font-size="8.2" text-anchor="end" fill="#3a3a3a" font-weight="normal" font-style="normal" >0.0</text>
<line x1="259.60" y1="282.60" x2="262.50" y2="282.60" stroke="#aaa" stroke-width="0.8" />
<text x="256.20" y="285.60" font-size="8.2" text-anchor="end" fill="#3a3a3a" font-weight="normal" font-style="normal" >0.1</text>
<line x1="259.60" y1="265.10" x2="262.50" y2="265.10" stroke="#aaa" stroke-width="0.8" />
<text x="256.20" y="268.10" font-size="8.2" text-anchor="end" fill="#3a3a3a" font-weight="normal" font-style="normal" >0.2</text>
<line x1="259.60" y1="247.60" x2="262.50" y2="247.60" stroke="#aaa" stroke-width="0.8" />
<text x="256.20" y="250.60" font-size="8.2" text-anchor="end" fill="#3a3a3a" font-weight="normal" font-style="normal" >0.3</text>
<line x1="259.60" y1="230.10" x2="262.50" y2="230.10" stroke="#aaa" stroke-width="0.8" />
<text x="256.20" y="233.10" font-size="8.2" text-anchor="end" fill="#3a3a3a" font-weight="normal" font-style="normal" >0.4</text>
<line x1="259.60" y1="212.60" x2="262.50" y2="212.60" stroke="#aaa" stroke-width="0.8" />
<text x="256.20" y="215.60" font-size="8.2" text-anchor="end" fill="#3a3a3a" font-weight="normal" font-style="normal" >0.5</text>
<line x1="285.30" y1="304.50" x2="285.30" y2="306.80" stroke="#aaa" stroke-width="0.8" />
<text x="285.30" y="317.00" font-size="8.1" text-anchor="middle" fill="#3a3a3a" font-weight="normal" font-style="normal" >1</text>
<line x1="318.70" y1="304.50" x2="318.70" y2="306.80" stroke="#aaa" stroke-width="0.8" />
<text x="318.70" y="317.00" font-size="8.1" text-anchor="middle" fill="#3a3a3a" font-weight="normal" font-style="normal" >10</text>
<line x1="352.10" y1="304.50" x2="352.10" y2="306.80" stroke="#aaa" stroke-width="0.8" />
<text x="352.10" y="317.00" font-size="8.1" text-anchor="middle" fill="#3a3a3a" font-weight="normal" font-style="normal" >100</text>
<line x1="385.50" y1="304.50" x2="385.50" y2="306.80" stroke="#aaa" stroke-width="0.8" />
<text x="385.50" y="317.00" font-size="8.1" text-anchor="middle" fill="#3a3a3a" font-weight="normal" font-style="normal" >1,000</text>
<line x1="418.90" y1="304.50" x2="418.90" y2="306.80" stroke="#aaa" stroke-width="0.8" />
<text x="418.90" y="317.00" font-size="8.1" text-anchor="middle" fill="#3a3a3a" font-weight="normal" font-style="normal" >10,000</text>
<text transform="translate(239.3,255.7) rotate(-90)" font-size="8.9" text-anchor="middle" fill="#3a3a3a">Density</text>
<text x="357.00" y="328.80" font-size="8.8" text-anchor="middle" fill="#3a3a3a" font-weight="normal" font-style="normal" >Parasites μl<tspan font-size="6" dy="-3.6">−1</tspan></text>
<rect x="304.30" y="337.6" width="10.3" height="6.6" fill="#00008b" fill-opacity="0.04" stroke="#00008b" stroke-width="0.9"/>
<line x1="309.45" y1="337.60" x2="309.45" y2="344.20" stroke="#00008b" stroke-width="0.9" />
<text x="318.60" y="343.20" font-size="7.8" text-anchor="start" fill="#3a3a3a" font-weight="normal" font-style="normal" letter-spacing="0.1">Negative</text>
<rect x="360.30" y="337.6" width="10.3" height="6.6" fill="#00ced1" fill-opacity="0.04" stroke="#00ced1" stroke-width="0.9"/>
<line x1="365.45" y1="337.60" x2="365.45" y2="344.20" stroke="#00ced1" stroke-width="0.9" />
<text x="374.60" y="343.20" font-size="7.8" text-anchor="start" fill="#3a3a3a" font-weight="normal" font-style="normal" letter-spacing="0.1">Positive</text>
<text x="465.60" y="194.60" font-size="13" text-anchor="start" fill="#000" font-weight="bold" font-style="normal" >e</text>
<path d="M503.90,290.40 C505.68,286.83 511.28,275.65 514.60,269.00 C517.92,262.35 520.70,254.88 523.80,250.50 C526.90,246.12 530.42,244.65 533.20,242.70 C535.98,240.75 538.03,241.58 540.50,238.80 C542.97,236.02 545.30,231.48 548.00,226.00 C550.70,220.52 554.00,210.32 556.70,205.90 C559.40,201.48 561.42,198.82 564.20,199.50 C566.98,200.18 570.83,204.08 573.40,210.00 C575.97,215.92 577.33,227.95 579.60,235.00 C581.87,242.05 583.77,246.07 587.00,252.30 C590.23,258.53 595.83,267.78 599.00,272.40 C602.17,277.02 603.77,278.30 606.00,280.00 C608.23,281.70 610.32,282.20 612.40,282.60 C614.48,283.00 616.37,282.33 618.50,282.40 C620.63,282.47 622.90,282.60 625.20,283.00 C627.50,283.40 629.62,283.28 632.30,284.80 C634.98,286.32 637.98,289.98 641.30,292.10 C644.62,294.22 648.58,296.42 652.20,297.50 C655.82,298.58 659.07,298.35 663.00,298.60 C666.93,298.85 673.67,298.93 675.80,299.00 L675.80,299.2 L503.90,299.2 Z" fill="#00008b" fill-opacity="0.2" stroke="none"/>
<path d="M503.90,290.40 C505.68,286.83 511.28,275.65 514.60,269.00 C517.92,262.35 520.70,254.88 523.80,250.50 C526.90,246.12 530.42,244.65 533.20,242.70 C535.98,240.75 538.03,241.58 540.50,238.80 C542.97,236.02 545.30,231.48 548.00,226.00 C550.70,220.52 554.00,210.32 556.70,205.90 C559.40,201.48 561.42,198.82 564.20,199.50 C566.98,200.18 570.83,204.08 573.40,210.00 C575.97,215.92 577.33,227.95 579.60,235.00 C581.87,242.05 583.77,246.07 587.00,252.30 C590.23,258.53 595.83,267.78 599.00,272.40 C602.17,277.02 603.77,278.30 606.00,280.00 C608.23,281.70 610.32,282.20 612.40,282.60 C614.48,283.00 616.37,282.33 618.50,282.40 C620.63,282.47 622.90,282.60 625.20,283.00 C627.50,283.40 629.62,283.28 632.30,284.80 C634.98,286.32 637.98,289.98 641.30,292.10 C644.62,294.22 648.58,296.42 652.20,297.50 C655.82,298.58 659.07,298.35 663.00,298.60 C666.93,298.85 673.67,298.93 675.80,299.00" fill="none" stroke="#00008b" stroke-width="0.9"/>
<path d="M503.90,266.00 C505.85,263.25 511.38,253.38 515.60,249.50 C519.82,245.62 525.30,243.18 529.20,242.70 C533.10,242.22 535.27,244.50 539.00,246.60 C542.73,248.70 547.53,252.12 551.60,255.30 C555.67,258.48 559.40,263.30 563.40,265.70 C567.40,268.10 571.52,269.33 575.60,269.70 C579.68,270.07 583.25,269.13 587.90,267.90 C592.55,266.67 598.80,263.87 603.50,262.30 C608.20,260.73 612.52,258.83 616.10,258.50 C619.68,258.17 621.70,258.48 625.00,260.30 C628.30,262.12 632.27,266.37 635.90,269.40 C639.53,272.43 643.18,275.47 646.80,278.50 C650.42,281.53 654.40,285.18 657.60,287.60 C660.80,290.02 662.97,291.50 666.00,293.00 C669.03,294.50 674.17,296.00 675.80,296.60 L675.80,299.2 L503.90,299.2 Z" fill="#00ced1" fill-opacity="0.2" stroke="none"/>
<path d="M503.90,266.00 C505.85,263.25 511.38,253.38 515.60,249.50 C519.82,245.62 525.30,243.18 529.20,242.70 C533.10,242.22 535.27,244.50 539.00,246.60 C542.73,248.70 547.53,252.12 551.60,255.30 C555.67,258.48 559.40,263.30 563.40,265.70 C567.40,268.10 571.52,269.33 575.60,269.70 C579.68,270.07 583.25,269.13 587.90,267.90 C592.55,266.67 598.80,263.87 603.50,262.30 C608.20,260.73 612.52,258.83 616.10,258.50 C619.68,258.17 621.70,258.48 625.00,260.30 C628.30,262.12 632.27,266.37 635.90,269.40 C639.53,272.43 643.18,275.47 646.80,278.50 C650.42,281.53 654.40,285.18 657.60,287.60 C660.80,290.02 662.97,291.50 666.00,293.00 C669.03,294.50 674.17,296.00 675.80,296.60" fill="none" stroke="#00ced1" stroke-width="0.9"/>
<path d="M503.90,297.20 C506.17,296.72 512.63,295.17 517.50,294.30 C522.37,293.43 528.07,292.18 533.10,292.00 C538.13,291.82 543.88,293.45 547.70,293.20 C551.52,292.95 553.38,292.12 556.00,290.50 C558.62,288.88 560.13,286.90 563.40,283.50 C566.67,280.10 571.83,275.43 575.60,270.10 C579.37,264.77 582.77,257.33 586.00,251.50 C589.23,245.67 592.10,239.92 595.00,235.10 C597.90,230.28 600.62,226.92 603.40,222.60 C606.18,218.28 609.62,211.80 611.70,209.20 C613.78,206.60 613.67,206.30 615.90,207.00 C618.13,207.70 622.17,211.08 625.10,213.40 C628.03,215.72 630.80,217.30 633.50,220.90 C636.20,224.50 639.08,230.83 641.30,235.00 C643.52,239.17 644.98,241.67 646.80,245.90 C648.62,250.13 650.25,255.72 652.20,260.40 C654.15,265.08 656.38,270.38 658.50,274.00 C660.62,277.62 662.02,279.38 664.90,282.10 C667.78,284.82 673.98,288.93 675.80,290.30 L675.80,299.2 L503.90,299.2 Z" fill="#ffb90f" fill-opacity="0.2" stroke="none"/>
<path d="M503.90,297.20 C506.17,296.72 512.63,295.17 517.50,294.30 C522.37,293.43 528.07,292.18 533.10,292.00 C538.13,291.82 543.88,293.45 547.70,293.20 C551.52,292.95 553.38,292.12 556.00,290.50 C558.62,288.88 560.13,286.90 563.40,283.50 C566.67,280.10 571.83,275.43 575.60,270.10 C579.37,264.77 582.77,257.33 586.00,251.50 C589.23,245.67 592.10,239.92 595.00,235.10 C597.90,230.28 600.62,226.92 603.40,222.60 C606.18,218.28 609.62,211.80 611.70,209.20 C613.78,206.60 613.67,206.30 615.90,207.00 C618.13,207.70 622.17,211.08 625.10,213.40 C628.03,215.72 630.80,217.30 633.50,220.90 C636.20,224.50 639.08,230.83 641.30,235.00 C643.52,239.17 644.98,241.67 646.80,245.90 C648.62,250.13 650.25,255.72 652.20,260.40 C654.15,265.08 656.38,270.38 658.50,274.00 C660.62,277.62 662.02,279.38 664.90,282.10 C667.78,284.82 673.98,288.93 675.80,290.30" fill="none" stroke="#ffb90f" stroke-width="0.9"/>
<path d="M503.90,277.70 C505.68,276.08 510.38,270.27 514.60,268.00 C518.82,265.73 525.13,264.98 529.20,264.10 C533.27,263.22 535.27,264.00 539.00,262.70 C542.73,261.40 547.53,258.60 551.60,256.30 C555.67,254.00 559.22,250.75 563.40,248.90 C567.58,247.05 571.87,246.12 576.70,245.20 C581.53,244.28 587.68,243.40 592.40,243.40 C597.12,243.40 601.42,243.90 605.00,245.20 C608.58,246.50 610.57,248.37 613.90,251.20 C617.23,254.03 621.33,258.40 625.00,262.20 C628.67,266.00 632.27,270.53 635.90,274.00 C639.53,277.47 642.57,279.98 646.80,283.00 C651.03,286.02 656.47,289.68 661.30,292.10 C666.13,294.52 673.38,296.60 675.80,297.50 L675.80,299.2 L503.90,299.2 Z" fill="#6b8e23" fill-opacity="0.2" stroke="none"/>
<path d="M503.90,277.70 C505.68,276.08 510.38,270.27 514.60,268.00 C518.82,265.73 525.13,264.98 529.20,264.10 C533.27,263.22 535.27,264.00 539.00,262.70 C542.73,261.40 547.53,258.60 551.60,256.30 C555.67,254.00 559.22,250.75 563.40,248.90 C567.58,247.05 571.87,246.12 576.70,245.20 C581.53,244.28 587.68,243.40 592.40,243.40 C597.12,243.40 601.42,243.90 605.00,245.20 C608.58,246.50 610.57,248.37 613.90,251.20 C617.23,254.03 621.33,258.40 625.00,262.20 C628.67,266.00 632.27,270.53 635.90,274.00 C639.53,277.47 642.57,279.98 646.80,283.00 C651.03,286.02 656.47,289.68 661.30,292.10 C666.13,294.52 673.38,296.60 675.80,297.50" fill="none" stroke="#6b8e23" stroke-width="0.9"/>
<line x1="562.60" y1="194.70" x2="562.60" y2="304.30" stroke="#00008b" stroke-width="1.35" />
<line x1="567.20" y1="194.70" x2="567.20" y2="304.30" stroke="#00ced1" stroke-width="1.35" />
<line x1="576.00" y1="194.70" x2="576.00" y2="304.30" stroke="#6b8e23" stroke-width="1.35" />
<line x1="612.70" y1="194.70" x2="612.70" y2="304.30" stroke="#ffb90f" stroke-width="1.35" />
<line x1="495.40" y1="194.50" x2="495.40" y2="304.90" stroke="#aaa" stroke-width="0.9" />
<line x1="495.40" y1="304.50" x2="685.00" y2="304.50" stroke="#ccc" stroke-width="1.0" />
<line x1="492.50" y1="299.20" x2="495.40" y2="299.20" stroke="#aaa" stroke-width="0.8" />
<text x="489.20" y="302.20" font-size="8.2" text-anchor="end" fill="#3a3a3a" font-weight="normal" font-style="normal" >0.0</text>
<line x1="492.50" y1="280.00" x2="495.40" y2="280.00" stroke="#aaa" stroke-width="0.8" />
<text x="489.20" y="283.00" font-size="8.2" text-anchor="end" fill="#3a3a3a" font-weight="normal" font-style="normal" >0.1</text>
<line x1="492.50" y1="260.80" x2="495.40" y2="260.80" stroke="#aaa" stroke-width="0.8" />
<text x="489.20" y="263.80" font-size="8.2" text-anchor="end" fill="#3a3a3a" font-weight="normal" font-style="normal" >0.2</text>
<line x1="492.50" y1="241.60" x2="495.40" y2="241.60" stroke="#aaa" stroke-width="0.8" />
<text x="489.20" y="244.60" font-size="8.2" text-anchor="end" fill="#3a3a3a" font-weight="normal" font-style="normal" >0.3</text>
<line x1="492.50" y1="222.40" x2="495.40" y2="222.40" stroke="#aaa" stroke-width="0.8" />
<text x="489.20" y="225.40" font-size="8.2" text-anchor="end" fill="#3a3a3a" font-weight="normal" font-style="normal" >0.4</text>
<line x1="492.50" y1="203.20" x2="495.40" y2="203.20" stroke="#aaa" stroke-width="0.8" />
<text x="489.20" y="206.20" font-size="8.2" text-anchor="end" fill="#3a3a3a" font-weight="normal" font-style="normal" >0.5</text>
<line x1="518.30" y1="304.50" x2="518.30" y2="306.80" stroke="#aaa" stroke-width="0.8" />
<text x="518.30" y="317.00" font-size="8.1" text-anchor="middle" fill="#3a3a3a" font-weight="normal" font-style="normal" >1</text>
<line x1="551.70" y1="304.50" x2="551.70" y2="306.80" stroke="#aaa" stroke-width="0.8" />
<text x="551.70" y="317.00" font-size="8.1" text-anchor="middle" fill="#3a3a3a" font-weight="normal" font-style="normal" >10</text>
<line x1="585.10" y1="304.50" x2="585.10" y2="306.80" stroke="#aaa" stroke-width="0.8" />
<text x="585.10" y="317.00" font-size="8.1" text-anchor="middle" fill="#3a3a3a" font-weight="normal" font-style="normal" >100</text>
<line x1="618.50" y1="304.50" x2="618.50" y2="306.80" stroke="#aaa" stroke-width="0.8" />
<text x="618.50" y="317.00" font-size="8.1" text-anchor="middle" fill="#3a3a3a" font-weight="normal" font-style="normal" >1,000</text>
<line x1="651.90" y1="304.50" x2="651.90" y2="306.80" stroke="#aaa" stroke-width="0.8" />
<text x="651.90" y="317.00" font-size="8.1" text-anchor="middle" fill="#3a3a3a" font-weight="normal" font-style="normal" >10,000</text>
<text transform="translate(473.0,249.5) rotate(-90)" font-size="8.9" text-anchor="middle" fill="#3a3a3a">Density</text>
<text x="590.00" y="328.80" font-size="8.8" text-anchor="middle" fill="#3a3a3a" font-weight="normal" font-style="normal" >Parasites μl<tspan font-size="6" dy="-3.6">−1</tspan></text>
<rect x="526.90" y="337.7" width="10.3" height="6.5" fill="#00008b" fill-opacity="0.04" stroke="#00008b" stroke-width="0.9"/>
<line x1="532.05" y1="337.70" x2="532.05" y2="344.20" stroke="#00008b" stroke-width="0.9" />
<text x="540.90" y="343.30" font-size="7.8" text-anchor="start" fill="#3a3a3a" font-weight="normal" font-style="normal" letter-spacing="0.1">Control</text>
<rect x="583.20" y="337.7" width="10.3" height="6.5" fill="#00ced1" fill-opacity="0.04" stroke="#00ced1" stroke-width="0.9"/>
<line x1="588.35" y1="337.70" x2="588.35" y2="344.20" stroke="#00ced1" stroke-width="0.9" />
<text x="597.20" y="343.30" font-size="7.8" text-anchor="start" fill="#3a3a3a" font-weight="normal" font-style="normal" letter-spacing="0.1">Control family</text>
<rect x="526.90" y="351.5" width="10.3" height="6.5" fill="#ffb90f" fill-opacity="0.04" stroke="#ffb90f" stroke-width="0.9"/>
<line x1="532.05" y1="351.50" x2="532.05" y2="358.00" stroke="#ffb90f" stroke-width="0.9" />
<text x="540.90" y="357.10" font-size="7.8" text-anchor="start" fill="#3a3a3a" font-weight="normal" font-style="normal" letter-spacing="0.1">Index</text>
<rect x="583.20" y="351.5" width="10.3" height="6.5" fill="#6b8e23" fill-opacity="0.04" stroke="#6b8e23" stroke-width="0.9"/>
<line x1="588.35" y1="351.50" x2="588.35" y2="358.00" stroke="#6b8e23" stroke-width="0.9" />
<text x="597.20" y="357.10" font-size="7.8" text-anchor="start" fill="#3a3a3a" font-weight="normal" font-style="normal" letter-spacing="0.1">Index family</text>
</svg></body></html>
